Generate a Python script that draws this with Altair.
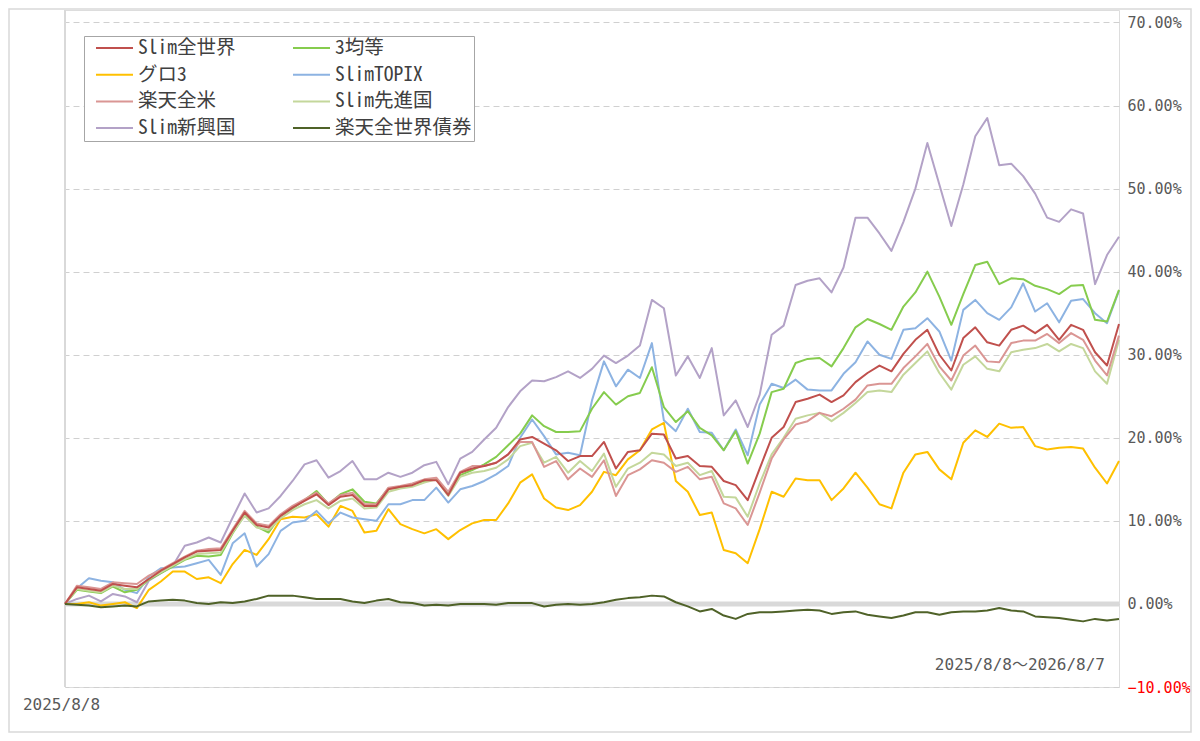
import altair as alt
import pandas as pd

# ---- data (percent change from 2025/8/8, sampled across the year) ----
slim_world = [0, 2.0, 1.8, 1.6, 2.4, 2.2, 2.0, 3.0, 4.0, 4.8, 5.6, 6.3, 6.4, 6.5, 8.8, 11.0, 9.5,
              9.2, 10.6, 11.6, 12.4, 13.2, 11.9, 12.9, 13.1, 11.8, 11.8, 13.8, 14.1, 14.3, 14.9, 14.9, 13.1,
              15.8, 16.3, 16.6, 17.0, 18.0, 19.8, 20.1, 19.3, 18.5, 17.2, 17.8, 17.8, 19.5, 16.3, 18.3, 18.5,
              20.5, 20.4, 17.5, 17.8, 16.6, 16.5, 14.8, 14.3, 12.5, 16.3,
              20.0, 21.3, 24.3, 24.7, 25.2, 24.3, 25.1, 26.7, 27.8, 28.7, 28.0, 30.1, 31.8, 33.0, 30.0, 28.1,
              32.0, 33.3, 31.5, 31.1, 33.0, 33.5, 32.6, 33.6, 31.8, 33.6, 33.0, 30.3, 28.7, 33.7]
kintou3 = [0, 1.7, 1.5, 1.3, 2.1, 1.4, 1.7, 2.9, 3.7, 4.5, 5.3, 5.8, 5.7, 5.9, 8.5, 10.7, 9.3,
           8.6, 10.6, 11.5, 12.5, 13.6, 12.0, 13.2, 13.8, 12.3, 12.1, 13.9, 14.0, 14.4, 14.8, 15.0, 13.2,
           15.5, 16.1, 16.8, 17.7, 19.1, 20.5, 22.7, 21.4, 20.7, 20.7, 20.8, 23.5, 25.5, 24.0, 25.0, 25.4,
           28.5, 23.7, 21.9, 23.2, 21.2, 20.3, 18.5, 20.8, 16.9, 20.5,
           25.5, 25.9, 29.0, 29.5, 29.6, 28.6, 30.8, 33.3, 34.3, 33.7, 33.0, 35.8, 37.5, 40.0, 37.0, 33.6,
           37.3, 40.8, 41.2, 38.5, 39.2, 39.1, 38.3, 37.9, 37.3, 38.3, 38.4, 34.2, 34.0, 37.8]
guro3 = [0, 0.0, 0.2, -0.2, 0.0, 0.2, -0.5, 1.7, 2.7, 3.9, 3.9, 3.0, 3.2, 2.5, 4.8, 6.5, 5.9,
         7.8, 10.2, 10.5, 10.4, 10.8, 9.3, 11.8, 11.2, 8.6, 8.8, 11.4, 9.6, 9.0, 8.5, 9.0, 7.8,
         8.9, 9.7, 10.1, 10.1, 12.1, 14.6, 15.6, 12.7, 11.6, 11.3, 11.9, 13.5, 15.9, 15.5, 17.4, 18.5,
         21.0, 21.8, 14.8, 13.5, 10.7, 11.0, 6.5, 6.1, 4.9, 9.0,
         13.5, 12.9, 15.1, 14.9, 14.9, 12.5, 13.9, 15.8, 14.0, 12.0, 11.5, 15.8, 18.0, 18.3, 16.2, 15.0,
         19.4, 20.9, 20.1, 21.7, 21.2, 21.3, 19.0, 18.6, 18.8, 18.9, 18.7, 16.4, 14.5, 17.2]
slim_topix = [0, 1.9, 3.1, 2.8, 2.6, 1.7, 1.3, 3.3, 4.3, 4.4, 4.5, 4.9, 5.3, 3.5, 7.3, 8.5, 4.5,
              6.0, 8.8, 9.8, 10.0, 11.2, 9.7, 11.0, 10.4, 10.2, 10.0, 12.0, 12.0, 12.5, 12.5, 14.0, 12.2,
              13.8, 14.2, 14.8, 15.6, 16.6, 20.0, 22.2, 20.2, 18.0, 18.2, 17.9, 24.5, 29.2, 26.2, 28.2, 27.2,
              31.4, 22.1, 20.8, 23.5, 20.7, 20.6, 18.5, 21.0, 17.9, 24.0,
              26.5, 26.0, 27.0, 25.8, 25.7, 25.7, 27.7, 29.1, 31.6, 30.0, 29.5, 33.0, 33.2, 34.4, 32.8, 29.3,
              35.4, 36.6, 35.0, 34.2, 35.7, 38.6, 35.2, 36.2, 33.9, 36.5, 36.7, 35.0, 33.8, 37.7]
rakuten_us = [0, 2.2, 2.0, 1.8, 2.6, 2.5, 2.4, 3.4, 4.1, 4.9, 5.7, 6.4, 6.6, 6.7, 9.0, 11.2, 9.7,
              9.4, 10.8, 11.8, 12.6, 13.4, 12.1, 13.1, 13.4, 12.0, 12.0, 14.0, 14.2, 14.5, 15.0, 15.2, 13.5,
              15.9, 16.6, 16.6, 17.0, 18.0, 19.5, 19.5, 16.5, 17.2, 15.0, 16.3, 15.3, 17.3, 13.0, 15.5, 16.2,
              17.3, 17.0, 15.9, 16.5, 15.0, 15.3, 12.1, 11.5, 9.5, 13.4,
              17.5, 19.8, 21.6, 22.0, 23.0, 22.6, 23.5, 24.6, 26.3, 26.5, 26.5, 28.4, 29.8, 31.3, 28.6, 26.9,
              29.9, 31.1, 29.2, 29.1, 31.4, 31.7, 31.7, 32.5, 31.4, 32.6, 31.8, 29.3, 27.5, 32.3]
slim_dev = [0, 1.8, 1.6, 1.4, 2.2, 1.8, 1.8, 3.0, 3.8, 4.6, 5.4, 6.0, 6.1, 6.2, 8.6, 10.6, 9.2,
            8.9, 10.3, 11.3, 12.0, 12.5, 11.5, 12.4, 12.7, 11.5, 11.6, 13.5, 13.9, 14.1, 14.6, 15.0, 13.0,
            15.3, 15.8, 16.0, 16.4, 17.4, 19.0, 19.4, 17.0, 17.7, 15.8, 17.2, 16.0, 18.1, 14.1, 16.3, 17.0,
            18.2, 18.0, 16.6, 17.0, 15.5, 16.0, 12.9, 12.8, 10.5, 14.5,
            18.0, 20.0, 22.3, 22.7, 23.0, 22.0, 23.0, 24.2, 25.5, 25.7, 25.5, 27.6, 29.0, 30.4, 27.8, 25.8,
            28.8, 29.8, 28.3, 28.0, 30.3, 30.6, 30.8, 31.3, 30.4, 31.3, 30.8, 28.0, 26.5, 31.8]
slim_em = [0, 0.6, 1.0, 0.3, 1.2, 0.9, 0.2, 2.8, 3.7, 4.6, 7.0, 7.4, 8.0, 7.4, 10.4, 13.3, 11.0,
           11.5, 13.0, 14.8, 16.8, 17.3, 15.2, 16.0, 17.2, 15.0, 15.0, 15.8, 15.3, 15.8, 16.7, 17.1, 14.4,
           17.5, 18.3, 19.8, 21.2, 23.7, 25.6, 26.9, 26.8, 27.3, 28.0, 27.2, 28.3, 29.9, 29.0, 29.9, 31.1,
           36.6, 35.6, 27.5, 29.8, 27.2, 30.8, 22.7, 24.5, 21.3, 25.2,
           32.4, 33.5, 38.4, 38.9, 39.2, 37.5, 40.5, 46.5, 46.5, 44.6, 42.5, 46.0, 50.0, 55.5, 50.5, 45.5,
           50.5, 56.3, 58.5, 52.8, 53.0, 51.5, 49.4, 46.5, 46.0, 47.5, 47.0, 38.5, 42.0, 44.2]
rakuten_bond = [0, -0.1, -0.2, -0.4, -0.3, -0.2, -0.3, 0.3, 0.4, 0.5, 0.4, 0.1, 0.0, 0.2, 0.1, 0.3, 0.6,
                1.0, 1.0, 1.0, 0.8, 0.6, 0.6, 0.6, 0.3, 0.1, 0.4, 0.6, 0.2, 0.1, -0.2, -0.1, -0.2,
                0.0, 0.0, 0.0, -0.1, 0.1, 0.1, 0.1, -0.3, -0.1, 0.0, -0.1, 0.0, 0.2, 0.5, 0.7, 0.8,
                1.0, 0.9, 0.2, -0.3, -0.9, -0.6, -1.4, -1.8, -1.2, -1.0,
                -1.0, -0.9, -0.8, -0.7, -0.8, -1.2, -1.0, -0.9, -1.3, -1.5, -1.7, -1.4, -1.0, -1.0, -1.3, -1.0,
                -0.9, -0.9, -0.8, -0.5, -0.8, -0.9, -1.5, -1.6, -1.7, -1.9, -2.1, -1.8, -2.0, -1.8]

legend_order = ["Slim全世界", "グロ3", "楽天全米", "Slim新興国",
                "3均等", "SlimTOPIX", "Slim先進国", "楽天全世界債券"]
colors = ["#c0504d", "#ffc000", "#da9694", "#b3a2c7",
          "#86cc4e", "#8db3e2", "#c4d79b", "#4f6228"]
y_ticks = [-10, 0, 10, 20, 30, 40, 50, 60, 70]
start_label = "2025/8/8"
period_label = "2025/8/8～2026/8/7"

# drawing order (later = on top)
series_map = {
    "Slim新興国": slim_em, "グロ3": guro3, "SlimTOPIX": slim_topix, "3均等": kintou3,
    "Slim先進国": slim_dev, "楽天全米": rakuten_us, "Slim全世界": slim_world, "楽天全世界債券": rakuten_bond,
}
rows = []
for name, vals in series_map.items():
    for i, v in enumerate(vals):
        rows.append({"idx": i, "series": name, "value": v})
df = pd.DataFrame(rows)
n_last = len(slim_world) - 1

MONO = "'DejaVu Sans Mono', 'Noto Sans CJK JP', sans-serif"
JP = "'Noto Sans Mono CJK JP', 'Noto Sans CJK JP', sans-serif"
GRAY = "#595959"

W, H = 1054, 677
xscale = alt.Scale(domain=[0, n_last], nice=False, zero=False)
yscale = alt.Scale(domain=[-10, 71.5], nice=False, zero=False)

lines = alt.Chart(df).mark_line(strokeWidth=2, strokeJoin="round").encode(
    x=alt.X("idx:Q", scale=xscale,
            axis=alt.Axis(values=[0], labelExpr=f"'{start_label}'", ticks=False, domain=False, grid=False,
                          title=None, labelFont=MONO, labelFontSize=16, labelColor=GRAY, labelPadding=9,
                          labelAlign="center", labelOffset=-4)),
    y=alt.Y("value:Q", scale=yscale,
            axis=alt.Axis(orient="right", values=y_ticks, title=None, ticks=False, domain=False,
                          labelExpr="format(datum.value, '.2f') + '%'",
                          labelColor=alt.ExprRef(expr="datum.value < 0 ? '#ff0000' : '#595959'"),
                          labelFont=MONO, labelFontSize=15, labelPadding=8,
                          grid=True, gridDash=[6, 4], gridColor="#d0d0d0", gridWidth=1)),
    color=alt.Color("series:N", scale=alt.Scale(domain=legend_order, range=colors),
                    legend=alt.Legend(title=None, orient="none", legendX=19, legendY=26, columns=2,
                                      symbolType="stroke", symbolSize=1369, symbolStrokeWidth=2,
                                      labelFont=JP, labelFontSize=19.5, labelColor="#404040",
                                      labelOffset=4, columnPadding=47, rowPadding=6.7,
                                      clipHeight=20, padding=2, symbolOffset=9,
                                      strokeColor="#a6a6a6", fillColor="white")),
)

zero_line = alt.Chart(pd.DataFrame({"v": [0]})).mark_rule(color="#d9d9d9", strokeWidth=5).encode(
    y=alt.Y("v:Q", scale=yscale)
)
left_line = alt.Chart(pd.DataFrame({"i": [0]})).mark_rule(color="#d9d9d9", strokeWidth=2).encode(
    x=alt.X("i:Q", scale=xscale)
)
period = alt.Chart(pd.DataFrame({"t": [period_label]})).mark_text(
    align="right", baseline="middle", font=MONO, fontSize=16, color=GRAY
).encode(x=alt.value(1040), y=alt.value(655), text="t:N")

# light frame around the whole picture
frame = alt.Chart(pd.DataFrame({"f": [1]})).mark_rect(
    fill=None, fillOpacity=0, stroke="#d9d9d9", strokeWidth=1.5
).encode(x=alt.value(-56), x2=alt.value(W + 72), y=alt.value(-1), y2=alt.value(H + 45))

chart = alt.layer(frame, zero_line, left_line, lines, period).properties(
    width=W, height=H,
    padding={"left": 57, "top": 2, "right": 73, "bottom": 46},
    autosize=alt.AutoSizeParams(type="none"),
).configure_view(stroke=None).configure(background="white")

chart.save("out.html", embed_options={"renderer": "svg", "actions": False})
